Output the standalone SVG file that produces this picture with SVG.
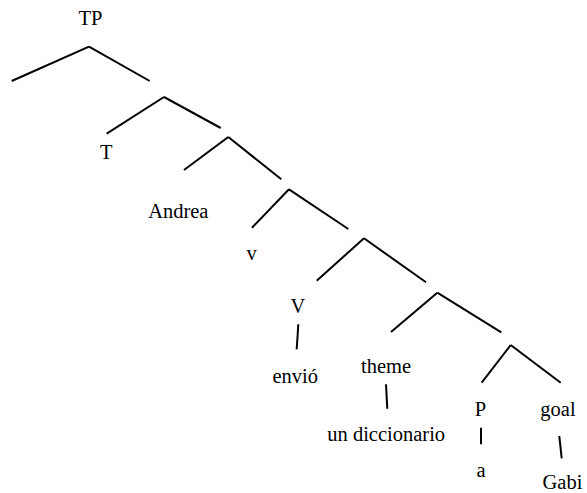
<svg xmlns="http://www.w3.org/2000/svg" width="587" height="493" viewBox="0 0 587 493">
<style>
text{font-family:"Liberation Serif","Times New Roman",serif;font-size:20.5px;fill:#000;text-anchor:middle}
line{stroke:#000;stroke-width:2;stroke-linecap:butt}
</style>
<rect width="587" height="493" fill="#fff"/>
<g id="connectors">
<line x1="89" y1="46.7" x2="11.7" y2="81"/>
<line x1="89" y1="46.7" x2="149.7" y2="81"/>
<line x1="164" y1="97" x2="106.7" y2="133.7"/>
<line x1="164" y1="97" x2="220.7" y2="128"/>
<line x1="228.3" y1="137" x2="184" y2="170"/>
<line x1="228.3" y1="137" x2="281.3" y2="179.3"/>
<line x1="289" y1="189.3" x2="252" y2="227.7"/>
<line x1="289" y1="189.3" x2="348.3" y2="229"/>
<line x1="364" y1="238.3" x2="316.7" y2="280.7"/>
<line x1="364" y1="238.3" x2="426" y2="282.3"/>
<line x1="437.3" y1="292.7" x2="391" y2="332"/>
<line x1="437.3" y1="292.7" x2="501.3" y2="332.3"/>
<line x1="510.7" y1="345" x2="481.7" y2="382.7"/>
<line x1="510.7" y1="345" x2="560.7" y2="382.7"/>
<line x1="298.3" y1="324.3" x2="296.7" y2="349.3"/>
<line x1="386" y1="384.3" x2="387.3" y2="408.7"/>
<line x1="481" y1="427.7" x2="481" y2="444.3"/>
<line x1="559.3" y1="436" x2="561.7" y2="458.3"/>
</g>
<g id="TP"><text x="90.5" y="25">TP</text></g>
<g id="T"><text x="106.3" y="159">T</text></g>
<g id="Andrea"><text x="178.3" y="218.3">Andrea</text></g>
<g id="v"><text x="251.7" y="260">v</text></g>
<g id="V"><text x="298" y="312.7">V</text></g>
<g id="envio"><text x="295.3" y="383.3">envió</text></g>
<g id="theme"><text x="386" y="373.3">theme</text></g>
<g id="undiccionario"><text x="386.2" y="440.7">un diccionario</text></g>
<g id="P"><text x="480.5" y="415.7">P</text></g>
<g id="a"><text x="481" y="476.7">a</text></g>
<g id="goal"><text x="558" y="415.7">goal</text></g>
<g id="Gabi"><text x="562.5" y="489.3">Gabi</text></g>
</svg>
